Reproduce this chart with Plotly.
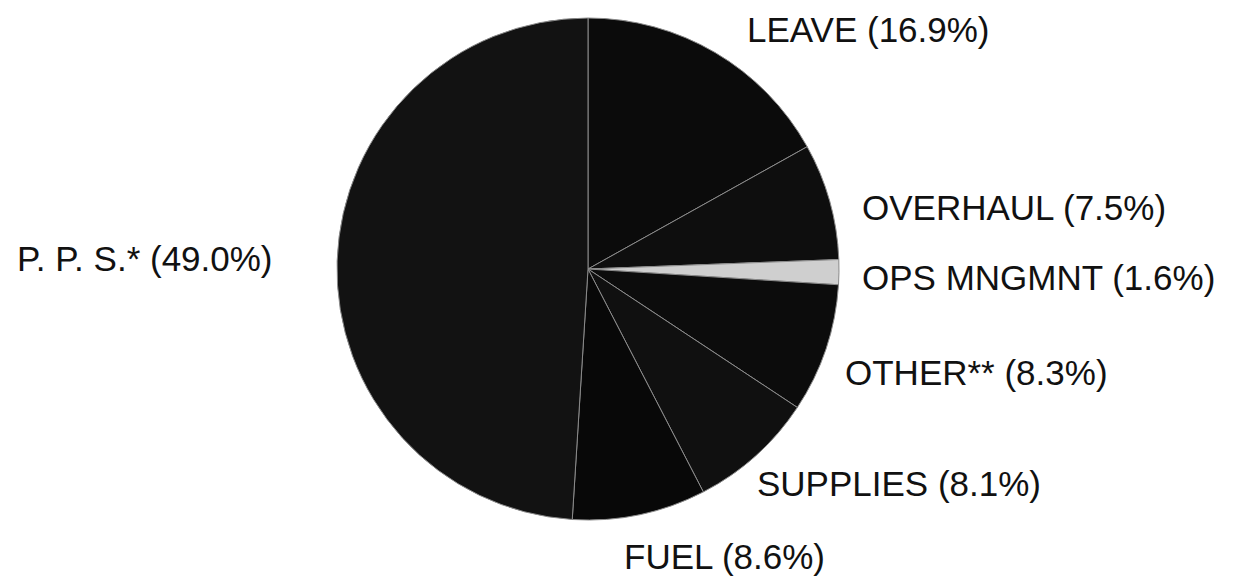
import plotly.graph_objects as go

W, H = 1248, 576

categories = ["LEAVE", "OVERHAUL", "OPS MNGMNT", "OTHER**", "SUPPLIES", "FUEL", "P. P. S.*"]
shares = [16.9, 7.5, 1.6, 8.3, 8.1, 8.6, 49.0]
slice_colors = ["#0b0b0b", "#0e0e0e", "#cfcfcf", "#0c0c0c", "#101010", "#080808", "#121212"]

# label anchor points (pixels, left edge / vertical middle)
label_px = [(737, 21), (852, 199), (852, 269), (835, 364), (747, 475), (614, 548), (7, 251)]

CX, CY, R = 580, 261, 251

fig = go.Figure()
fig.add_trace(go.Pie(
    labels=categories,
    values=shares,
    sort=False,
    direction="clockwise",
    rotation=0,
    marker=dict(colors=slice_colors, line=dict(color="#8a8a8a", width=1)),
    textinfo="none",
    hoverinfo="label+percent",
    showlegend=False,
    domain=dict(x=[(CX - R) / W, (CX + R) / W],
                y=[(H - CY - R) / H, (H - CY + R) / H]),
))

for cat, val, (px, py) in zip(categories, shares, label_px):
    fig.add_annotation(
        x=px / W, y=1 - py / H, xref="paper", yref="paper",
        xanchor="left", yanchor="middle", showarrow=False,
        text=f"{cat} ({val:.1f}%)",
        font=dict(family="Liberation Sans, Arial, sans-serif", size=35, color="#111111"),
    )

fig.update_layout(
    width=W, height=H,
    margin=dict(l=0, r=0, t=0, b=0),
    paper_bgcolor="white", plot_bgcolor="white",
)

fig.write_html("out.html")
